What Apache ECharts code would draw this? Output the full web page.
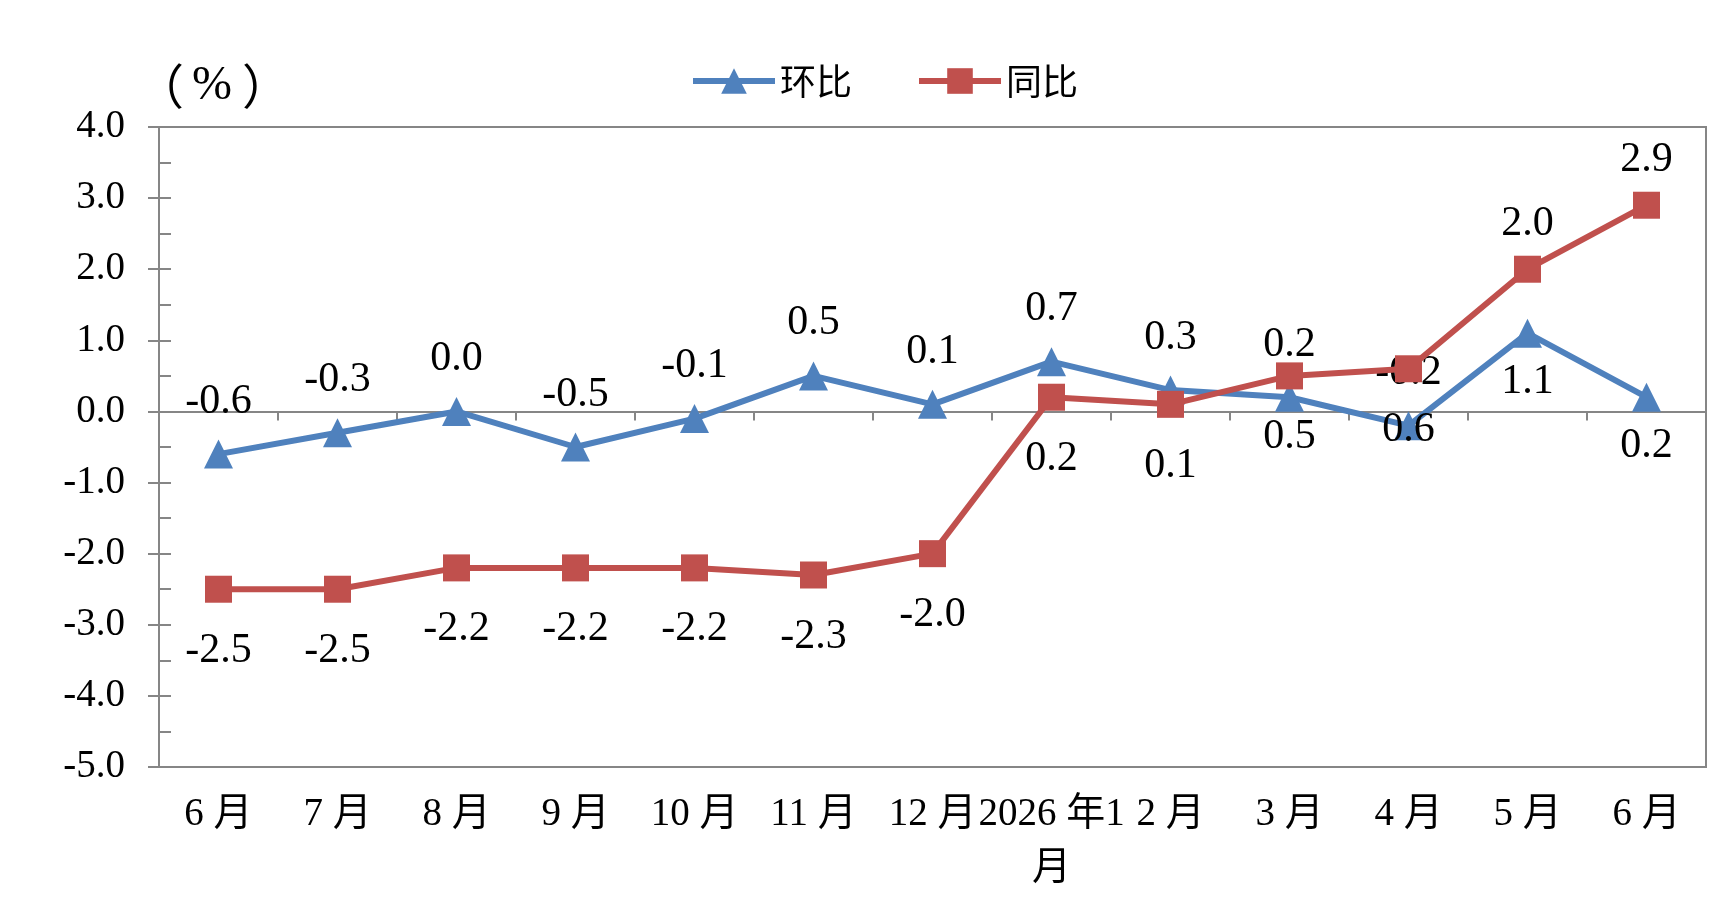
<!DOCTYPE html>
<html>
<head>
<meta charset="utf-8">
<script src="https://cdn.jsdelivr.net/npm/echarts@6/dist/echarts.min.js"></script>
<style>
html,body{margin:0;padding:0;background:#fff;}
#chart{width:1709px;height:906px;}
</style>
</head>
<body>
<div id="chart"></div>
<script>
const categories = ['6月','7月','8月','9月','10月','11月','12月','2026年1月','2月','3月','4月','5月','6月'];
const huanbi = [-0.6, -0.3, 0.0, -0.5, -0.1, 0.5, 0.1, 0.7, 0.3, 0.2, -0.2, 1.1, 0.2];
const tongbi = [-2.5, -2.5, -2.2, -2.2, -2.2, -2.3, -2.0, 0.2, 0.1, 0.5, 0.6, 2.0, 2.9];
const yTicks = [-5, -4, -3, -2, -1, 0, 1, 2, 3, 4];

// label placement (style)
const huanbiLabelPos = ['top','top','top','top','top','top','top','top','top','top','top','bottom','bottom'];
const tongbiLabelPos = ['bottom','bottom','bottom','bottom','bottom','bottom','bottom','bottom','bottom','bottom','bottom','top','top'];

const FONT = "'Liberation Serif','Noto Sans CJK SC',serif";
const BLUE = '#4F81BD';
const RED = '#C0504D';
const GRAY = '#868686';

const chart = echarts.init(document.getElementById('chart'));

function mkData(vals, pos, distMap) {
  return vals.map((v, i) => ({
    value: v,
    label: { position: pos[i], distance: distMap[pos[i]] }
  }));
}

function fmtCat(v) {
  const s = v.replace(/(\d)(年|月)/g, '$1 $2');
  if (v.length > 3) {
    const i = s.lastIndexOf('月');
    return s.slice(0, i).trim() + '\n' + s.slice(i);
  }
  return s;
}

const yMin = yTicks[0], yMax = yTicks[yTicks.length - 1];

chart.setOption({
  animation: false,
  backgroundColor: '#fff',
  textStyle: { fontFamily: FONT },
  grid: { left: 159, right: 3, top: 127, bottom: 139, show: true, borderColor: GRAY, borderWidth: 2, containLabel: false },
  legend: {
    top: 58, left: 685,
    itemWidth: 82, itemHeight: 32, itemGap: 64,
    lineStyle: { width: 6 },
    textStyle: { fontFamily: "'Noto Sans CJK SC',sans-serif", fontSize: 36, color: '#000', padding: [0,0,0,0] },
    data: ['环比', '同比']
  },
  graphic: [{
    type: 'text', left: 136, top: 62,
    style: {
      text: '{p|（}{q|%}{p|）}',
      rich: {
        p: { fontFamily: "'Noto Sans CJK SC',sans-serif", fontSize: 48, fill: '#000' },
        q: { fontFamily: "'Liberation Serif',serif", fontSize: 48, fill: '#000', padding: [0, 10, 0, 8] }
      }
    }
  }],
  xAxis: [{
    type: 'category', data: categories, position: 'bottom',
    axisLine: { onZero: false, lineStyle: { color: GRAY, width: 2 } },
    axisTick: { show: false },
    axisLabel: {
      color: '#000', fontSize: 39, fontFamily: FONT, margin: 21, interval: 0, lineHeight: 54,
      formatter: fmtCat
    }
  }, {
    type: 'category', data: categories, position: 'top',
    axisLine: { onZero: true, lineStyle: { color: GRAY, width: 2 } },
    axisTick: { show: true, inside: true, length: 9, lineStyle: { color: GRAY, width: 2 } },
    axisLabel: { show: false }
  }],
  yAxis: [{
    type: 'value', min: yMin, max: yMax, interval: 1, position: 'left',
    axisLine: { show: true, lineStyle: { color: GRAY, width: 2 } },
    axisTick: { show: true, length: 11, lineStyle: { color: GRAY, width: 2 } },
    splitLine: { show: false },
    axisLabel: { color: '#000', fontSize: 39, fontFamily: FONT, margin: 34, formatter: v => v.toFixed(1) }
  }, {
    type: 'value', min: yMin, max: yMax, interval: 1, position: 'left',
    axisLine: { show: false },
    axisTick: { show: true, inside: true, length: 12, lineStyle: { color: GRAY, width: 2 } },
    minorTick: { show: true, splitNumber: 2, length: 12, lineStyle: { color: GRAY, width: 2 } },
    splitLine: { show: false },
    axisLabel: { show: false }
  }],
  series: [{
    name: '环比', type: 'line', xAxisIndex: 0, yAxisIndex: 0,
    data: mkData(huanbi, huanbiLabelPos, { top: 17, bottom: 13 }),
    symbol: 'triangle', symbolSize: 29,
    lineStyle: { color: BLUE, width: 6 },
    itemStyle: { color: BLUE },
    label: { show: true, color: '#000', fontSize: 42, fontFamily: FONT, formatter: p => p.value.toFixed(1) },
    z: 3
  }, {
    name: '同比', type: 'line', xAxisIndex: 0, yAxisIndex: 0,
    data: mkData(tongbi, tongbiLabelPos, { top: 11, bottom: 27 }),
    symbol: 'rect', symbolSize: 27,
    lineStyle: { color: RED, width: 6 },
    itemStyle: { color: RED },
    label: { show: true, color: '#000', fontSize: 42, fontFamily: FONT, formatter: p => p.value.toFixed(1) },
    z: 4
  }]
});
</script>
</body>
</html>
